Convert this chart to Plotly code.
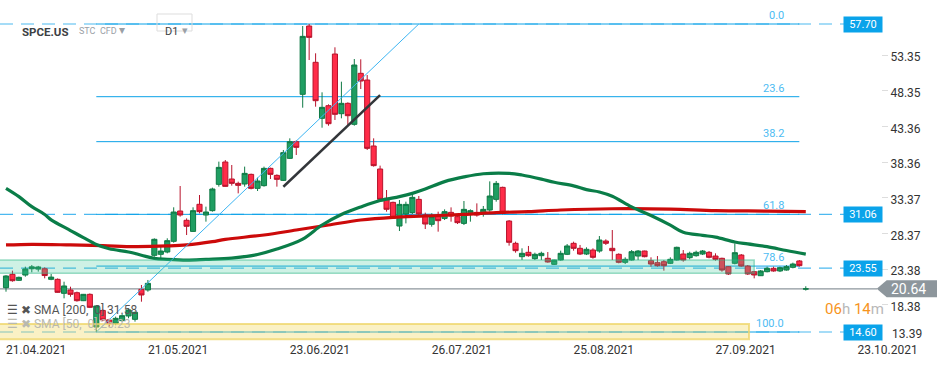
import plotly.graph_objects as go

# ---------------- data ----------------
opens = [20.80, 22.67, 21.83, 22.57, 23.45, 23.40, 23.45, 21.97, 21.97, 20.01,
         20.48, 20.10, 18.98, 19.87, 15.30, 17.62, 16.30, 15.81, 16.19, 16.84,
         16.37, 20.57, 20.48, 25.33, 25.47, 25.79, 27.29, 31.53, 30.23, 28.68,
         32.47, 30.97, 31.58, 35.26, 38.39, 36.01, 35.40, 35.31, 36.66, 34.70,
         35.08, 37.50, 36.52, 35.82, 38.90, 41.23, 47.86, 57.42, 52.34, 44.50,
         46.27, 53.50, 45.15, 46.60, 43.66, 50.80, 49.86, 40.63, 37.41, 33.30,
         32.74, 29.43, 31.11, 31.30, 33.16, 30.97, 29.67, 30.74, 30.50, 31.34,
         30.74, 29.80, 31.20, 31.34, 31.20, 31.67, 33.16, 34.84, 30.13, 27.01,
         25.14, 25.75, 24.86, 25.28, 24.91, 24.07, 24.68, 25.47, 27.01, 26.31,
         25.51, 26.07, 25.93, 27.33, 26.31, 25.47, 24.35, 24.67, 25.23, 25.93,
         24.58, 24.30, 24.44, 24.21, 24.67, 25.51, 25.00, 25.28, 25.51, 25.75,
         25.23, 24.91, 23.74, 24.21, 25.37, 23.83, 23.04, 22.48, 23.04, 23.51,
         23.14, 23.27, 23.65, 24.54, 20.60]
highs = [22.55, 23.18, 22.35, 23.74, 23.98, 23.85, 23.65, 22.72, 22.10, 21.64,
         20.94, 20.25, 19.92, 20.00, 18.33, 17.78, 16.45, 16.75, 17.10, 17.90,
         17.45, 21.18, 21.88, 27.70, 26.54, 27.71, 32.05, 35.03, 30.50, 32.05,
         33.77, 32.14, 34.80, 38.44, 38.67, 37.97, 35.64, 37.74, 36.76, 36.20,
         37.74, 37.60, 36.66, 40.07, 41.70, 41.42, 57.42, 57.70, 53.60, 48.14,
         46.46, 54.44, 49.63, 46.74, 52.80, 52.76, 50.56, 41.70, 37.88, 34.47,
         32.84, 33.07, 32.84, 34.00, 33.63, 31.30, 31.20, 31.44, 31.76, 32.04,
         30.97, 32.93, 31.76, 32.60, 32.23, 35.68, 35.73, 34.94, 30.27, 27.24,
         26.31, 26.64, 25.70, 25.84, 25.79, 24.70, 25.98, 26.91, 27.24, 26.78,
         26.45, 26.31, 28.03, 27.57, 28.87, 25.61, 25.05, 26.07, 26.07, 25.98,
         25.05, 25.23, 24.67, 25.05, 26.54, 26.07, 25.84, 25.98, 26.07, 25.93,
         25.61, 25.00, 23.83, 27.01, 25.51, 23.97, 23.14, 23.27, 23.74, 23.74,
         23.74, 23.97, 24.30, 24.67, 21.00]
lows = [20.24, 21.64, 21.75, 22.34, 22.95, 23.05, 22.11, 21.85, 20.10, 19.31,
        19.54, 18.85, 18.93, 17.95, 14.60, 16.10, 15.35, 15.55, 16.05, 16.52,
        16.05, 18.84, 20.24, 25.14, 24.67, 25.61, 27.10, 30.74, 28.17, 28.63,
        31.20, 30.04, 31.44, 34.94, 34.94, 35.08, 34.00, 34.94, 34.56, 34.33,
        34.94, 36.01, 34.94, 35.73, 38.81, 39.37, 45.99, 52.66, 46.13, 43.19,
        43.47, 44.27, 44.50, 43.57, 43.47, 48.60, 40.07, 37.74, 32.84, 31.44,
        30.41, 28.73, 29.80, 31.11, 30.83, 29.01, 29.34, 28.64, 30.27, 30.04,
        29.71, 29.57, 30.04, 30.74, 30.74, 31.44, 32.84, 31.06, 26.68, 25.70,
        24.68, 25.14, 24.68, 24.68, 24.30, 24.00, 24.58, 25.37, 25.98, 25.37,
        25.37, 24.86, 25.70, 26.78, 24.67, 24.21, 24.11, 24.58, 24.67, 25.05,
        23.74, 23.74, 23.18, 24.11, 24.58, 24.44, 24.77, 25.14, 25.37, 24.91,
        24.58, 23.04, 22.58, 24.07, 23.74, 22.58, 22.11, 22.44, 22.95, 23.04,
        22.99, 23.18, 23.51, 23.74, 20.40]
closes = [22.44, 21.78, 22.25, 23.42, 23.72, 23.70, 22.50, 22.28, 20.15, 21.04,
          19.87, 18.98, 19.87, 18.05, 18.24, 16.30, 15.80, 16.51, 16.88, 17.68,
          17.35, 19.78, 21.41, 27.57, 25.93, 27.38, 31.39, 30.97, 29.39, 31.58,
          31.44, 31.39, 34.61, 37.64, 34.98, 35.40, 35.12, 36.80, 34.70, 35.73,
          37.50, 36.66, 35.96, 39.70, 41.23, 40.44, 55.97, 55.83, 46.97, 46.04,
          43.75, 45.06, 46.60, 44.87, 51.96, 49.72, 40.30, 37.88, 33.16, 31.77,
          30.51, 32.46, 32.46, 33.44, 31.11, 29.71, 30.74, 30.18, 31.44, 30.83,
          29.90, 31.76, 31.58, 30.97, 31.76, 33.63, 35.40, 31.20, 27.15, 25.98,
          25.61, 25.28, 25.47, 25.61, 24.40, 24.67, 25.61, 26.64, 26.31, 25.51,
          26.17, 25.05, 27.47, 27.01, 25.98, 24.35, 24.77, 25.84, 25.93, 25.14,
          24.11, 23.88, 23.88, 24.77, 26.45, 24.67, 25.61, 25.75, 25.93, 25.05,
          24.77, 23.27, 22.72, 25.70, 23.83, 22.72, 22.58, 23.14, 23.51, 23.14,
          23.60, 23.74, 24.11, 23.88, 20.64]
bar_index = list(range(len(opens)))

date_tick_bars = [0, 22, 44, 66, 88, 110, 132]
date_tick_labels = ["21.04.2021", "21.05.2021", "23.06.2021", "26.07.2021",
                    "25.08.2021", "27.09.2021", "23.10.2021"]

price_ticks = [53.35, 48.35, 43.36, 38.36, 33.37, 28.37, 23.38, 18.38]
price_tick_low = 13.39

sma200_bars = [0, 4, 10, 15, 20, 25, 28, 32, 34, 40, 45, 50, 55, 60, 65, 71, 76,
               81, 86, 94, 103, 110, 118, 124]
sma200_vals = [26.78, 26.87, 26.78, 26.68, 26.55, 26.64, 26.78, 27.24, 27.57,
               28.17, 28.87, 29.57, 30.27, 30.65, 30.83, 31.06, 31.30, 31.44,
               31.67, 31.85, 31.80, 31.58, 31.52, 31.45]
sma50_bars = [0, 2, 4, 6, 7, 10, 12, 14, 16, 19, 21, 23, 25, 28, 31, 35, 39, 42,
              46, 49, 52, 55, 58, 61, 63, 65, 68, 71, 74, 78, 80, 83, 85, 88, 90,
              92, 94, 97, 100, 103, 105, 108, 110, 113, 115, 118, 121, 124]
sma50_vals = [34.70, 33.54, 32.14, 31.05, 30.30, 28.80, 27.80, 26.85, 26.25,
              25.80, 25.35, 24.90, 24.77, 24.67, 24.77, 24.95, 25.45, 26.20,
              27.60, 29.57, 31.05, 32.10, 33.00, 33.55, 34.00, 34.60, 35.64,
              36.30, 36.75, 36.80, 36.57, 36.00, 35.55, 35.05, 34.52, 34.20,
              33.60, 32.10, 30.90, 29.55, 28.55, 28.12, 27.87, 27.20, 26.93,
              26.54, 26.00, 25.50]

fib_low, fib_high = 14.60, 57.70
fib_levels = [0.0, 23.6, 38.2, 61.8, 78.6, 100.0]
fib_anchor_bars = [14, 64]
fib_line_end_bar = 123

trend_bars = [43, 58]
trend_vals = [34.93, 47.76]

level_lines = [57.70, 31.06, 23.55, 14.60]
current_price = 20.64
green_zone = [22.81, 24.67]
yellow_zone = [13.58, 15.72]
zone_end_bar = 116

# ---------------- figure ----------------
X_RANGE = [-0.93, 135.66]
Y_RANGE = [13.34, 61.06]
PLOT_W = 881.0
PLOT_H = 341.0
BLUE = "#0ba2e8"
LIGHT_BLUE = "#4cb9f0"

fig = go.Figure()

fig.add_trace(go.Candlestick(
    x=bar_index, open=opens, high=highs, low=lows, close=closes,
    increasing=dict(line=dict(color="#0f7a45", width=1), fillcolor="#1f9e62"),
    decreasing=dict(line=dict(color="#b8142c", width=1), fillcolor="#ff2c48"),
    whiskerwidth=0, showlegend=False, hoverinfo="skip"))

fig.add_trace(go.Scatter(x=sma200_bars, y=sma200_vals, mode="lines",
                         line=dict(color="#cc0a0a", width=3.2, shape="spline"),
                         showlegend=False, hoverinfo="skip"))
fig.add_trace(go.Scatter(x=sma50_bars, y=sma50_vals, mode="lines",
                         line=dict(color="#0a7d48", width=3.2, shape="spline"),
                         showlegend=False, hoverinfo="skip"))

fig.add_trace(go.Scatter(x=fib_anchor_bars, y=[fib_low, fib_high], mode="lines",
                         line=dict(color="#3db5f2", width=1),
                         showlegend=False, hoverinfo="skip"))
fig.add_trace(go.Scatter(x=trend_bars, y=trend_vals, mode="lines",
                         line=dict(color="#33363a", width=2.5),
                         showlegend=False, hoverinfo="skip"))

shapes = []
for lv in level_lines:
    shapes.append(dict(type="line", xref="paper", yref="y", x0=0, x1=845 / PLOT_W,
                       y0=lv, y1=lv, line=dict(color=LIGHT_BLUE, width=1.2, dash="13px,8px"),
                       layer="below"))
fib_vals = [fib_high - lv / 100.0 * (fib_high - fib_low) for lv in fib_levels]
for fv in fib_vals:
    shapes.append(dict(type="line", xref="x", yref="y", x0=fib_anchor_bars[0],
                       x1=fib_line_end_bar, y0=fv, y1=fv,
                       line=dict(color=BLUE, width=1), layer="below"))
shapes.append(dict(type="line", xref="paper", yref="y", x0=0, x1=877 / PLOT_W,
                   y0=current_price, y1=current_price,
                   line=dict(color="#8d969c", width=1.3), layer="below"))
shapes.append(dict(type="rect", xref="x", yref="y", x0=X_RANGE[0] - 1, x1=zone_end_bar,
                   y0=green_zone[0], y1=green_zone[1],
                   fillcolor="rgba(60,200,150,0.25)", line=dict(color="rgba(40,180,130,0.45)", width=1.5),
                   layer="above"))
shapes.append(dict(type="rect", xref="x", yref="y", x0=X_RANGE[0] - 1, x1=zone_end_bar - 0.8,
                   y0=yellow_zone[0], y1=yellow_zone[1],
                   fillcolor="rgba(240,215,90,0.35)", line=dict(color="rgba(238,212,100,0.75)", width=2),
                   layer="above"))
h = 8.5 / (PLOT_H / (Y_RANGE[1] - Y_RANGE[0]))
p = current_price
xa, xb, xc = 876.7 / PLOT_W, 886.7 / PLOT_W, 937 / PLOT_W
shapes.append(dict(type="path", xref="paper", yref="y",
                   path=f"M {xa},{p} L {xb},{p + h} L {xc},{p + h} L {xc},{p - h} L {xb},{p - h} Z",
                   fillcolor="#8d969c", line=dict(width=0)))
shapes.append(dict(type="rect", xref="paper", yref="paper", x0=157 / PLOT_W, x1=192 / PLOT_W,
                   y0=1 - 31 / PLOT_H, y1=1 - 14 / PLOT_H, line=dict(color="#dddddd", width=1),
                   fillcolor="rgba(255,255,255,0)"))

annotations = []
for lv in level_lines:
    annotations.append(dict(xref="paper", yref="y", x=863 / PLOT_W, y=lv, xanchor="center",
                            yanchor="middle", text=f"{lv:.2f}", showarrow=False, bgcolor="#0aa3ea",
                            width=36, height=13, font=dict(color="white", size=11, family="Roboto")))
annotations.append(dict(xref="paper", yref="y", x=908 / PLOT_W, y=current_price,
                        xanchor="center", yanchor="middle",
                        text=f"{current_price:.2f}", showarrow=False,
                        font=dict(color="white", size=14, family="Roboto")))
annotations.append(dict(xref="paper", yref="y", x=890 / PLOT_W, y=price_tick_low,
                        xanchor="left", yanchor="middle", yshift=7, text=f"{price_tick_low:.2f}",
                        showarrow=False, font=dict(color="#333", size=12, family="Roboto")))
for lv, fv in zip(fib_levels, fib_vals):
    annotations.append(dict(xref="x", yref="y", x=120.9, y=fv, xanchor="right",
                            yanchor="bottom", yshift=0, text=f"{lv:.1f}", showarrow=False,
                            font=dict(color="#4dbcf3", size=11, family="Roboto")))
annotations += [
    dict(xref="paper", yref="paper", x=20 / PLOT_W, y=1 - 23 / PLOT_H, xanchor="left",
         text="<b>SPCE.US</b>", showarrow=False, font=dict(color="#3c4043", size=11.5, family="Roboto")),
    dict(xref="paper", yref="paper", x=77 / PLOT_W, y=1 - 24 / PLOT_H, xanchor="left",
         text="STC  CFD", showarrow=False, font=dict(color="#9aa0a6", size=9, family="Roboto")),
    dict(xref="paper", yref="paper", x=117 / PLOT_W, y=1 - 21 / PLOT_H, xanchor="left",
         text="▾", showarrow=False, font=dict(color="#9aa0a6", size=12, family="DejaVu Sans")),
    dict(xref="paper", yref="paper", x=163 / PLOT_W, y=1 - 23 / PLOT_H, xanchor="left",
         text="D1", showarrow=False, font=dict(color="#3c4043", size=11, family="Roboto")),
    dict(xref="paper", yref="paper", x=180 / PLOT_W, y=1 - 22 / PLOT_H, xanchor="left",
         text="▾", showarrow=False, font=dict(color="#9aa0a6", size=11, family="DejaVu Sans")),
    dict(xref="paper", yref="paper", x=5 / PLOT_W, y=1 - 319 / PLOT_H, xanchor="left",
         text="☰ ✖ SMA [200,  0] 31.58", showarrow=False,
         font=dict(color="#555", size=12, family="Roboto")),
    dict(xref="paper", yref="paper", x=5 / PLOT_W, y=1 - 333 / PLOT_H, xanchor="left",
         text="☰ ✖ SMA [50,  0] 25.23", showarrow=False,
         font=dict(color="#b9b9b0", size=12, family="Roboto")),
    dict(xref="paper", yref="paper", x=823 / PLOT_W, y=1 - 320 / PLOT_H,
         xanchor="left", showarrow=False,
         text="<span style='color:#f7941d'>06</span><span style='color:#b8b8b8'>h</span> "
              "<span style='color:#f7941d'>14</span><span style='color:#b8b8b8'>m</span>",
         font=dict(size=15, family="Roboto")),
]

fig.update_layout(
    width=950, height=365,
    margin=dict(l=0, r=69, t=0, b=24, autoexpand=False),
    paper_bgcolor="white", plot_bgcolor="white",
    boxgap=0.12, boxgroupgap=0.1,
    shapes=shapes, annotations=annotations,
    showlegend=False,
    xaxis=dict(range=X_RANGE, rangeslider=dict(visible=False), showgrid=False,
               zeroline=False, showline=False, tickmode="array",
               tickvals=date_tick_bars, ticktext=date_tick_labels,
               ticks="", ticklabelposition="outside right", automargin=False,
               tickfont=dict(color="#333", size=12, family="Roboto")),
    yaxis=dict(range=Y_RANGE, side="right", showgrid=False, zeroline=False,
               showline=False, tickmode="array", tickvals=price_ticks,
               ticktext=[f"{t:.2f}" for t in price_ticks], ticks="outside",
               ticklen=6, tickcolor="#dddddd", ticklabelshift=2, automargin=False,
               tickfont=dict(color="#333", size=12, family="Roboto")),
)

fig.write_html("out.html", config={"displayModeBar": False},
               post_script="document.body.style.margin='0';document.body.style.overflow='hidden';")
